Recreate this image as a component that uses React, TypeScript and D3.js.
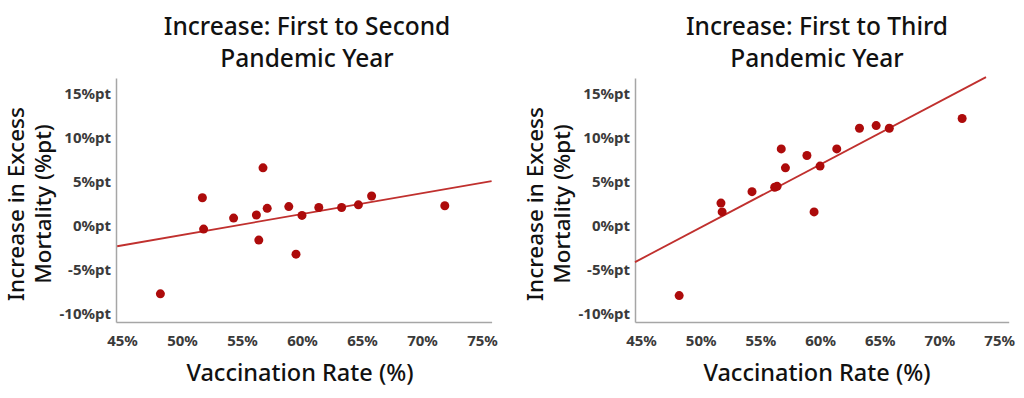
import React, { useEffect, useRef } from 'react';
import * as d3 from 'd3';

// vaccination rate per country (same countries in both panels)
const vaccinationRate = [48.2, 51.7, 51.8, 54.3, 56.2, 56.4, 56.75, 57.1, 58.9, 59.5, 60.0, 61.4, 63.3, 64.7, 65.8, 71.9];
const increaseSecond = [-7.7, 3.2, -0.35, 0.9, 1.25, -1.6, 6.6, 2.0, 2.2, -3.2, 1.2, 2.1, 2.1, 2.4, 3.4, 2.3];
const increaseThird = [-7.9, 2.6, 1.6, 3.9, 4.4, 4.5, 8.75, 6.6, 8.0, 1.6, 6.8, 8.75, 11.1, 11.4, 11.1, 12.2];

// fitted trend lines as drawn (endpoints)
const trendSecondX = [44.6, 75.8];
const trendSecondY = [-2.3, 5.1];
const trendThirdX = [44.5, 73.9];
const trendThirdY = [-4.1, 16.9];

const xTicks = [45, 50, 55, 60, 65, 70, 75];
const yTicks = [-10, -5, 0, 5, 10, 15];

const titles = [
  ['Increase: First to Second', 'Pandemic Year'],
  ['Increase: First to Third', 'Pandemic Year'],
];
const yLabel = ['Increase in Excess', 'Mortality (%pt)'];
const xLabel = 'Vaccination Rate (%)';

const FONT = '"Noto Sans", "Open Sans", sans-serif';
const DOT = '#ad0b0b';
const LINE = '#c0302e';

const App: React.FC = () => {
  const ref = useRef<SVGSVGElement>(null);

  useEffect(() => {
    if (!ref.current) return;
    const svg = d3.select(ref.current);
    svg.selectAll('*').remove();

    const panels = [
      { x0: 116, x1: 491.6, cx: 307, lx: 300, ys: increaseSecond, tx: trendSecondX, ty: trendSecondY, title: titles[0] },
      { x0: 635, x1: 1008.7, cx: 817, lx: 817, ys: increaseThird, tx: trendThirdX, ty: trendThirdY, title: titles[1] },
    ];

    const top = 78, bottom = 322;

    panels.forEach(p => {
      const g = svg.append('g');
      const x = d3.scaleLinear().domain([44.5, 75.8]).range([p.x0, p.x1]);
      const y = d3.scaleLinear().domain([-10.9, 16.8]).range([bottom, top]);

      const xAxis = g.append('g')
        .attr('transform', `translate(0,${bottom})`)
        .call(d3.axisBottom(x).tickValues(xTicks).tickSize(0).tickSizeOuter(0).tickPadding(13).tickFormat(d => `${d}%`));
      const yAxis = g.append('g')
        .attr('transform', `translate(${p.x0},0)`)
        .call(d3.axisLeft(y).tickValues(yTicks).tickSize(0).tickSizeOuter(0).tickPadding(5).tickFormat(d => `${d}%pt`));

      [xAxis, yAxis].forEach(a => {
        a.select('.domain').attr('stroke', '#a6a6a6').attr('stroke-width', 1.5);
        a.selectAll('text')
          .attr('font-family', FONT)
          .attr('font-size', 15)
          .attr('font-weight', 700)
          .attr('fill', '#3a3a3a');
      });

      const line = d3.line<number>()
        .x((_, i) => x(p.tx[i]))
        .y(d => y(d));
      g.append('path')
        .attr('d', line(p.ty))
        .attr('fill', 'none')
        .attr('stroke', LINE)
        .attr('stroke-width', 1.8);

      g.selectAll('circle')
        .data(p.ys)
        .enter()
        .append('circle')
        .attr('cx', (_, i) => x(vaccinationRate[i]))
        .attr('cy', d => y(d))
        .attr('r', 4.5)
        .attr('fill', DOT);

      const t = g.append('text')
        .attr('text-anchor', 'middle')
        .attr('font-family', FONT)
        .attr('font-size', 24.5)
        .attr('font-weight', 500)
        .attr('fill', '#111');
      p.title.forEach((s, i) => {
        t.append('tspan').attr('x', p.cx).attr('y', 35 + i * 32).text(s);
      });

      const yl = g.append('text')
        .attr('transform', `translate(${p.x0 - 92},204) rotate(-90)`)
        .attr('text-anchor', 'middle')
        .attr('font-family', FONT)
        .attr('font-size', 22.5)
        .attr('font-weight', 500)
        .attr('fill', '#111');
      yLabel.forEach((s, i) => {
        yl.append('tspan').attr('x', 0).attr('y', i * 27).text(s);
      });

      g.append('text')
        .attr('x', p.lx)
        .attr('y', 381)
        .attr('text-anchor', 'middle')
        .attr('font-family', FONT)
        .attr('font-size', 23.5)
        .attr('font-weight', 500)
        .attr('fill', '#111')
        .text(xLabel);
    });
  }, []);

  return (
    <svg
      ref={ref}
      width={1024}
      height={398}
      style={{ position: 'absolute', left: 0, top: 0, background: '#fff' }}
    />
  );
};

export default App;
